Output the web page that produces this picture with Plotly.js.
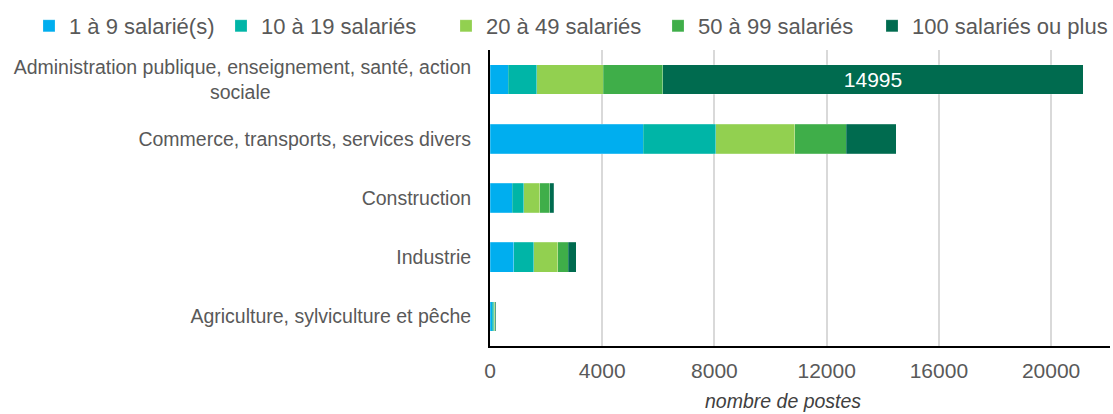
<!DOCTYPE html>
<html>
<head>
<meta charset="utf-8">
<script src="https://cdn.plot.ly/plotly-3.0.1.min.js"></script>
<style>
  html, body { margin: 0; padding: 0; background: #fff; }
  #myDiv { width: 1113px; height: 414px; }
</style>
</head>
<body>
<div id="myDiv"></div>
<script>
// second line of the first label is centred in the original: pad it with nbsp
var pad = new Array(38).join('\u00a0');
var categories = [
  'Administration publique, enseignement, santé, action<br>sociale' + pad,
  'Commerce, transports, services divers',
  'Construction',
  'Industrie',
  'Agriculture, sylviculture et pêche'
];

var tranche1a9 = [650, 5455, 785, 845, 85];
var tranche10a19 = [1020, 2600, 425, 710, 40];
var tranche20a49 = [2360, 2800, 570, 855, 40];
var tranche50a99 = [2125, 1850, 345, 380, 30];
var tranche100plus = [14995, 1780, 155, 285, 5];

var seriesNames = ['1 à 9 salarié(s)', '10 à 19 salariés', '20 à 49 salariés', '50 à 99 salariés', '100 salariés ou plus'];
var seriesValues = [tranche1a9, tranche10a19, tranche20a49, tranche50a99, tranche100plus];
var colors = ['#00aeef', '#00b5a7', '#92d050', '#3fae49', '#006b4f'];
// legend entry widths, so the entries spread over the top like the original
var legendWidths = [147, 180, 167, 169, 0];

var data = seriesValues.map(function (vals, i) {
  var trace = {
    type: 'bar',
    orientation: 'h',
    name: seriesNames[i],
    y: categories,
    x: vals,
    marker: {color: colors[i], line: {color: 'rgba(255,255,255,0.4)', width: 0.5}},
    hoverinfo: 'x+name'
  };
  if (legendWidths[i]) trace.legendwidth = legendWidths[i];
  if (i === 4) {
    trace.text = vals.map(function (v, j) { return j === 0 ? String(v) : ''; });
    trace.textposition = 'inside';
    trace.insidetextanchor = 'middle';
    trace.constraintext = 'none';
    trace.textfont = {color: '#ffffff', size: 21, family: 'Liberation Sans, Arial, sans-serif'};
  }
  return trace;
});

var layout = {
  width: 1113,
  height: 414,
  barmode: 'stack',
  bargap: 0.5,
  font: {family: 'Liberation Sans, Arial, sans-serif', color: '#595959', size: 16},
  margin: {l: 490, r: 3, t: 50, b: 68},
  paper_bgcolor: '#ffffff',
  plot_bgcolor: '#ffffff',
  showlegend: true,
  legend: {
    orientation: 'h',
    x: -0.7403,
    xanchor: 'left',
    y: 1.152,
    yanchor: 'top',
    font: {size: 22, color: '#595959'},
    traceorder: 'normal',
    itemwidth: 30
  },
  xaxis: {
    range: [0, 22100],
    tickvals: [0, 4000, 8000, 12000, 16000, 20000],
    tickformat: 'd',
    showgrid: true,
    gridcolor: '#d9d9d9',
    gridwidth: 1.5,
    zeroline: false,
    showline: true,
    linecolor: '#000000',
    linewidth: 2,
    ticks: '',
    ticklabelstandoff: 5,
    tickfont: {size: 21, color: '#595959'}
  },
  yaxis: {
    autorange: 'reversed',
    showline: true,
    linecolor: '#000000',
    linewidth: 2,
    showgrid: false,
    ticks: '',
    ticklabelstandoff: 13,
    tickfont: {size: 19.5, color: '#595959'}
  },
  // axis title sits a little left of centre in the original
  annotations: [{
    text: '<i>nombre de postes</i>',
    xref: 'paper', yref: 'paper',
    x: 0.4726, y: -0.186,
    xanchor: 'center', yanchor: 'middle',
    showarrow: false,
    font: {size: 19.5, color: '#404040'}
  }]
};

Plotly.newPlot('myDiv', data, layout, {displayModeBar: false});
</script>
</body>
</html>
